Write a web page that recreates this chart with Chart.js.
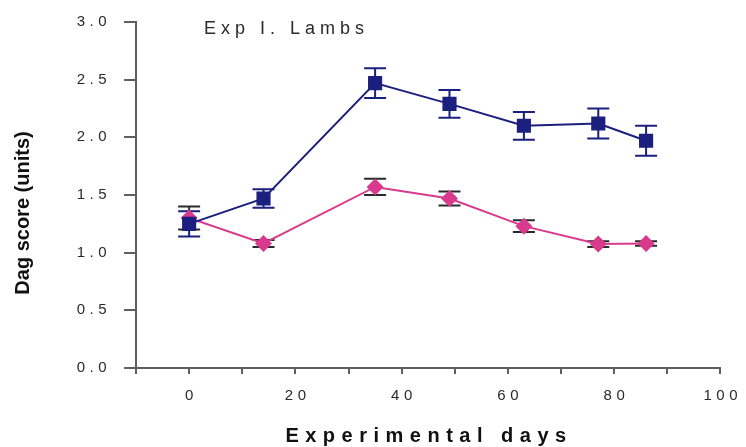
<!DOCTYPE html>
<html>
<head>
<meta charset="utf-8">
<script src="https://cdn.jsdelivr.net/npm/chart.js@4.4.1/dist/chart.umd.min.js"></script>
<style>
  html, body { margin: 0; padding: 0; background: #fff; }
  #wrap { width: 746px; height: 447px; }
</style>
</head>
<body>
<div id="wrap"><canvas id="c" width="746" height="447"></canvas></div>
<script>
// Sampling days of the experiment
const days = [0, 14, 35, 49, 63, 77, 86];

// Group 1 (navy squares): mean dag score and standard error
const navyMeans = [1.25, 1.47, 2.47, 2.29, 2.10, 2.12, 1.97];
const navyErrors = [0.11, 0.08, 0.13, 0.12, 0.12, 0.13, 0.13];

// Group 2 (magenta diamonds): mean dag score and standard error
const pinkMeans = [1.30, 1.08, 1.57, 1.47, 1.23, 1.075, 1.08];
const pinkErrors = [0.10, 0.03, 0.07, 0.06, 0.05, 0.025, 0.02];

// Axis ranges and labelled ticks
const xRange = [-10, 100];
const xLabelled = [0, 20, 40, 60, 80, 100];
const yRange = [0, 3];
const yStep = 0.5;

const chartTitle = 'Exp I. Lambs';
const xTitle = 'Experimental days';
const yTitle = 'Dag score (units)';

const NAVY = '#1b1f7e';
const PINK = '#d93a8e';
const AXIS = '#5f5f5f';
const TEXT = '#2a2a2a';
const FONT = "'Liberation Sans', Arial, sans-serif";
const TICK_SPACING = 4.5;

const toPoints = (xs, ys) => xs.map((x, i) => ({ x: x, y: ys[i] }));

// Error bars with caps, drawn under the markers
const errorBars = {
  id: 'errorBars',
  beforeDatasetsDraw(chart) {
    const { ctx, scales: { x, y } } = chart;
    const sets = [
      { xs: days, ys: navyMeans, es: navyErrors, color: NAVY },
      { xs: days, ys: pinkMeans, es: pinkErrors, color: '#2a2a2a' }
    ];
    ctx.save();
    ctx.lineWidth = 2;
    sets.forEach(s => {
      ctx.strokeStyle = s.color;
      s.xs.forEach((d, i) => {
        const px = x.getPixelForValue(d);
        const top = y.getPixelForValue(s.ys[i] + s.es[i]);
        const bot = y.getPixelForValue(s.ys[i] - s.es[i]);
        const cap = 11;
        ctx.beginPath();
        ctx.moveTo(px, top); ctx.lineTo(px, bot);
        ctx.moveTo(px - cap, top); ctx.lineTo(px + cap, top);
        ctx.moveTo(px - cap, bot); ctx.lineTo(px + cap, bot);
        ctx.stroke();
      });
    });
    ctx.restore();
  }
};

// Spaced lettering for the tick labels, plus the title texts
const lettering = {
  id: 'lettering',
  beforeDraw(chart) {
    chart.ctx.letterSpacing = TICK_SPACING + 'px';
  },
  afterDatasetsDraw(chart) {
    chart.ctx.letterSpacing = '0px';
  },
  afterDraw(chart) {
    const ctx = chart.ctx;
    ctx.save();
    ctx.fillStyle = TEXT;
    ctx.textBaseline = 'middle';

    ctx.letterSpacing = '5px';
    ctx.font = '18px ' + FONT;
    ctx.textAlign = 'left';
    ctx.fillText(chartTitle, 204, 29);

    ctx.fillStyle = '#111';
    ctx.letterSpacing = '6.5px';
    ctx.font = 'bold 20px ' + FONT;
    ctx.textAlign = 'center';
    ctx.fillText(xTitle, 429, 436);

    ctx.letterSpacing = '0px';
    ctx.font = 'bold 20px ' + FONT;
    ctx.translate(23, 213);
    ctx.rotate(-Math.PI / 2);
    ctx.fillText(yTitle, 0, 0);
    ctx.restore();
  }
};

new Chart(document.getElementById('c'), {
  type: 'line',
  data: {
    datasets: [
      {
        data: toPoints(days, navyMeans),
        borderColor: NAVY,
        backgroundColor: NAVY,
        borderWidth: 2,
        pointStyle: 'rect',
        pointRadius: 10,
        pointBorderWidth: 0,
        tension: 0
      },
      {
        data: toPoints(days, pinkMeans),
        borderColor: PINK,
        backgroundColor: PINK,
        borderWidth: 2,
        pointStyle: 'rectRot',
        pointRadius: 8.5,
        pointBorderWidth: 0,
        tension: 0
      }
    ]
  },
  options: {
    responsive: false,
    animation: false,
    devicePixelRatio: 1,
    layout: { padding: { left: 0, right: 24, top: 18, bottom: 0 } },
    plugins: {
      legend: { display: false },
      tooltip: { enabled: false },
      title: { display: false }
    },
    scales: {
      x: {
        type: 'linear',
        min: xRange[0],
        max: xRange[1],
        afterFit(scale) { scale.height = 79; },
        afterBuildTicks(scale) {
          const t = [];
          for (let v = xRange[0]; v <= xRange[1]; v += 10) t.push({ value: v });
          scale.ticks = t;
        },
        border: { display: true, color: AXIS, width: 2 },
        grid: { drawOnChartArea: false, drawTicks: true, tickLength: 6, tickColor: AXIS, lineWidth: 2 },
        ticks: {
          autoSkip: false,
          maxRotation: 0,
          padding: 13,
          labelOffset: TICK_SPACING / 2,
          color: TEXT,
          font: { family: FONT, size: 15 },
          callback: v => xLabelled.includes(v) ? String(v) : ''
        }
      },
      y: {
        type: 'linear',
        min: yRange[0],
        max: yRange[1],
        afterFit(scale) { scale.width = 136; },
        border: { display: true, color: AXIS, width: 2 },
        grid: { drawOnChartArea: false, drawTicks: true, tickLength: 12, tickColor: AXIS, lineWidth: 2 },
        ticks: {
          stepSize: yStep,
          padding: 13,
          color: TEXT,
          font: { family: FONT, size: 15 },
          callback: v => v.toFixed(1)
        }
      }
    }
  },
  plugins: [errorBars, lettering]
});
</script>
</body>
</html>
